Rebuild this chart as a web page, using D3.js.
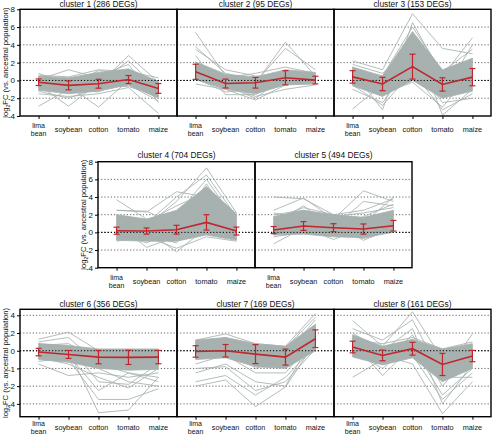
<!DOCTYPE html>
<html><head><meta charset="utf-8">
<script src="https://cdn.jsdelivr.net/npm/d3@7"></script>
<style>body{margin:0;background:#fff}svg{display:block;font-family:"Liberation Sans",Arial,sans-serif}</style>
</head><body><svg id="c" width="492" height="435"></svg>
<script>
const categories = ["lima bean","soybean","cotton","tomato","maize"];
const clusterNames = ["cluster 1 (286 DEGs)","cluster 2 (95 DEGs)","cluster 3 (153 DEGs)","cluster 4 (704 DEGs)","cluster 5 (494 DEGs)","cluster 6 (356 DEGs)","cluster 7 (169 DEGs)","cluster 8 (161 DEGs)"];
const yTicksTop = [8,6,4,2,0,-2,-4];
const yTickLabelsTop = ["8","6","4","2","0","-2","-4"];
const yTicksBottom = [4,2,0,-2,-4,-6];
const yTickLabelsBottom = ["4","2","0","-1","-2","-4"];

// mean log2FC per cluster and its error (SD)
const means = [
  [-0.2,-0.55,-0.37,0.1,-0.9],
  [0.97,-0.35,-0.26,0.3,0.04],
  [0.4,-0.4,1.55,-0.45,0.37],
  [0.19,0.15,0.3,1.13,0.15],
  [0.26,0.72,0.53,0.38,0.75],
  [-0.15,-0.42,-0.72,-0.75,-0.72],
  [-0.08,0.0,-0.38,-0.72,1.36],
  [0.42,-0.53,0.23,-1.55,-0.6]
];
const errors = [
  [0.37,0.5,0.5,0.45,0.55],
  [0.85,0.5,0.6,0.8,0.43],
  [0.7,0.75,1.4,0.75,0.97],
  [0.4,0.35,0.5,0.87,0.45],
  [0.4,0.5,0.45,0.57,0.6],
  [0.42,0.45,0.75,0.8,0.75],
  [0.65,0.7,1.07,0.9,1.0],
  [0.66,0.6,0.72,1.25,0.64]
];
// dense core of gene profiles (low / high edge)
const coreLo = [
  [-1.1,-1.5,-1.2,-0.5,-2.0],
  [0.1,-1.0,-1.5,-0.5,-0.4],
  [-0.6,-1.8,0.0,-2.0,-1.2],
  [-0.9,-1.0,-1.0,-0.3,-0.9],
  [-0.3,-0.2,-0.5,-0.6,0.0],
  [-1.0,-1.3,-2.0,-2.2,-2.1],
  [-1.0,-0.8,-1.8,-2.0,0.0],
  [-0.7,-1.6,-0.8,-3.5,-2.0]
];
const coreHi = [
  [0.5,0.3,0.9,1.3,-0.1],
  [2.1,0.7,0.4,1.2,0.9],
  [1.5,0.5,5.5,1.2,2.5],
  [2.0,1.5,2.5,5.2,2.1],
  [1.8,2.5,2.0,1.7,2.5],
  [0.8,0.6,0.2,0.2,0.2],
  [1.2,1.5,0.8,0.5,3.0],
  [1.8,0.5,1.3,0.2,0.8]
];
// individual gene profiles visible outside the core
const genes1 = [[-2.9,-1.0,-1.3,0.2,-1.0],[0.8,-0.5,1.1,0.8,-0.6],[-0.5,-2.9,-0.3,0.5,-1.5],[0.1,1.2,0.3,0.5,-0.5],[-0.3,-0.6,-3.0,0.0,-1.2],[-0.8,-1.2,-0.5,2.8,-0.2],[0.3,-0.2,0.5,1.8,-2.5],[-1.5,-1.8,-1.5,-0.8,-3.7],[-1.2,-2.0,-0.8,-0.5,-2.3],[0.6,0.4,1.2,1.0,0.3],[-0.6,-0.9,-0.2,2.2,-1.0],[0.2,-0.1,-0.6,-0.7,-1.7]];
const genes2 = [[5.4,0.5,-0.5,0.2,0.2],[3.8,0.8,0.0,0.5,0.0],[3.5,1.2,0.5,0.3,0.6],[2.8,-1.6,-1.6,0.2,-0.3],[-0.4,-1.0,-2.2,-0.5,0.3],[1.0,0.2,-0.3,4.3,0.5],[1.5,-0.2,-0.2,3.6,1.2],[0.5,-0.5,-1.8,-1.0,-0.5],[2.0,0.3,0.8,1.5,0.8],[0.2,-1.3,-1.0,-0.2,-0.2],[1.2,-0.6,-2.0,0.5,0.4]];
const genes3 = [[-3.2,-0.5,1.5,-1.0,0.5],[2.2,1.2,7.5,3.6,3.0],[1.0,-3.3,6.5,0.5,4.8],[0.5,0.2,5.0,-3.9,-1.0],[-1.0,-2.5,2.0,-2.5,-2.0],[1.8,0.8,3.5,-1.5,4.0],[0.0,-1.5,-0.2,-3.0,1.0],[1.2,-0.8,4.5,0.8,2.2],[-0.5,-2.8,1.0,-3.3,-1.5],[0.8,0.5,6.0,1.0,3.5],[0.3,-1.2,3.0,-1.8,-0.5],[1.5,0.0,2.5,0.3,1.5]];
const genes4 = [[3.7,1.5,0.5,2.0,0.5],[2.5,2.4,0.8,1.5,0.3],[2.5,2.3,4.6,4.0,1.5],[1.0,-1.7,-0.5,3.0,0.0],[0.5,0.2,-2.2,0.5,-0.8],[1.5,0.8,3.5,7.3,2.2],[0.8,1.0,4.0,6.5,1.8],[-0.5,-0.5,-1.8,-0.5,-1.0],[1.2,0.5,2.0,6.0,1.2],[0.0,-1.2,0.5,5.5,0.5],[1.8,1.2,3.0,4.5,2.0],[-1.0,-0.3,-1.2,2.5,-0.5]];
const genes5 = [[4.0,3.8,2.0,1.5,2.0],[2.5,3.9,1.5,1.0,4.0],[2.2,1.5,1.5,4.7,3.5],[-1.3,0.5,-0.8,0.5,1.0],[1.0,3.0,0.5,3.5,3.0],[0.5,1.8,1.0,-0.9,0.5],[1.5,2.8,2.0,2.5,3.8],[-0.5,0.0,0.0,-0.7,0.2],[2.0,2.5,1.8,2.2,2.8],[0.8,1.2,0.3,1.8,3.2]];
const genes6 = [[1.3,2.1,0.0,-0.5,-1.0],[-1.5,-2.8,-2.5,-3.0,-2.5],[0.5,0.0,-7.0,-6.7,-3.0],[-0.5,-1.0,-5.5,-5.5,-4.3],[0.8,0.5,-3.5,-3.8,-1.5],[1.0,1.5,-1.5,-2.5,-3.5],[-0.8,-1.5,-3.0,-4.2,-2.0],[0.2,-0.5,-4.5,-2.5,-3.0],[-1.2,-0.8,-2.0,-3.5,-4.0],[0.6,0.8,-1.0,-1.5,-1.0]];
const genes7 = [[-4.0,-3.3,-6.3,-4.1,1.0],[-3.5,-2.8,-5.0,-3.0,0.5],[-2.5,-1.5,-3.5,-4.0,2.0],[1.2,1.9,0.8,0.5,4.2],[0.5,1.5,0.0,-0.5,3.5],[-1.5,-0.5,-2.5,-2.5,1.5],[-2.0,-1.8,-4.5,-3.5,0.2],[0.8,1.0,0.5,0.3,3.8],[-0.5,0.3,-1.2,-1.5,2.5],[0.0,0.8,-2.0,-0.8,1.0]];
const genes8 = [[-3.0,-1.0,-0.5,-2.0,-1.0],[3.4,0.5,4.4,-1.0,0.5],[2.5,1.2,3.5,-3.0,1.9],[1.0,-2.8,0.5,-5.0,-2.0],[0.5,-0.5,-1.5,-7.1,-3.5],[2.0,0.0,2.5,-6.0,-1.5],[1.5,-1.5,1.8,-4.0,0.0],[-0.5,-1.2,-0.5,-5.5,-2.5],[1.2,0.8,1.5,0.2,1.0],[0.0,-2.0,0.8,-3.0,-3.0]];
const genes = [genes1,genes2,genes3,genes4,genes5,genes6,genes7,genes8];

const GREY = "#a7b1af", RED = "#c0262c";
const svg = d3.select("#c");
const rows = [
  {clusters:[0,1,2], left:20, top:9.3, bottom:116, domain:[-4,8], ticks:yTicksTop, labels:yTickLabelsTop, titleY:7.3},
  {clusters:[3,4], left:98, top:161.7, bottom:267.7, domain:[-4,8], ticks:yTicksTop, labels:yTickLabelsTop, titleY:158},
  {clusters:[5,6,7], left:20, top:309.3, bottom:416.7, domain:[-7.45,4.68], ticks:yTicksBottom, labels:yTickLabelsBottom, titleY:306.5}
];
const PW = 157;
rows.forEach((row, ri) => {
  const y = d3.scaleLinear().domain(row.domain).range([row.bottom, row.top]);
  const ya = svg.append("g").attr("transform", `translate(${row.left},0)`)
    .call(d3.axisLeft(y).tickValues(row.ticks).tickSize(3).tickPadding(2).tickFormat((d,i)=>row.labels[i]));
  ya.select(".domain").remove();
  ya.selectAll("text").attr("font-size", 8).attr("fill","#111").attr("font-family","Liberation Sans, Arial");
  ya.selectAll("line").attr("stroke","#000");
  const tx = row.left - 12.5, ty = (row.top + row.bottom)/2;
  const t = svg.append("text").attr("transform", `translate(${tx},${ty}) rotate(-90)`)
    .attr("text-anchor","middle").attr("font-size",7.6).attr("fill","#111");
  t.append("tspan").text("log");
  t.append("tspan").text("2").attr("font-size",5.2).attr("dy",2);
  t.append("tspan").text("FC (vs. ancestral population)").attr("dy",-2);

  row.clusters.forEach((ci, k) => {
    const x0 = row.left + k*PW;
    const x = d3.scalePoint().domain(categories).range([x0, x0+PW]).padding(0.62);
    const g = svg.append("g");
    const clipId = "clip"+ci;
    svg.append("clipPath").attr("id", clipId).append("rect")
      .attr("x", x0).attr("y", row.top).attr("width", PW).attr("height", row.bottom-row.top);
    row.ticks.forEach(v => {
      if (y(v) <= row.top+1 || y(v) >= row.bottom-1) return;
      g.append("line").attr("x1", x0).attr("x2", x0+PW).attr("y1", y(v)).attr("y2", y(v))
        .attr("stroke", v===0 ? "#000" : "#555").attr("stroke-width", v===0?1:0.9)
        .attr("stroke-dasharray","1.2,2");
    });
    const pg = g.append("g").attr("clip-path", `url(#${clipId})`);
    const area = d3.area().x((d,i)=>x(categories[i])).y0((d,i)=>y(coreLo[ci][i])).y1((d,i)=>y(coreHi[ci][i]));
    pg.append("path").datum(categories).attr("d", area).attr("fill", GREY).attr("stroke", GREY).attr("stroke-width",0.8);
    const line = d3.line().x((d,i)=>x(categories[i])).y(d=>y(d));
    pg.selectAll("path.gene").data(genes[ci]).join("path").attr("class","gene")
      .attr("d", line).attr("fill","none").attr("stroke", GREY).attr("stroke-width",0.85);
    g.append("line").attr("x1", x0).attr("x2", x0+PW).attr("y1", y(0)).attr("y2", y(0))
      .attr("stroke","#000").attr("stroke-width",1).attr("stroke-dasharray","1.2,2");
    g.append("path").datum(means[ci]).attr("d", line).attr("fill","none").attr("stroke", RED).attr("stroke-width",1.6);
    categories.forEach((c,i) => {
      const m = means[ci][i], e = errors[ci][i], cx = x(c);
      g.append("line").attr("x1",cx).attr("x2",cx).attr("y1",y(m-e)).attr("y2",y(m+e)).attr("stroke",RED).attr("stroke-width",1.2);
      [m-e, m+e].forEach(v => g.append("line").attr("x1",cx-3).attr("x2",cx+3).attr("y1",y(v)).attr("y2",y(v)).attr("stroke",RED).attr("stroke-width",1.2));
    });
    g.append("rect").attr("x", x0).attr("y", row.top).attr("width", PW).attr("height", row.bottom-row.top)
      .attr("fill","none").attr("stroke","#000").attr("stroke-width",1.4);
    const xa = svg.append("g").attr("transform", `translate(0,${row.bottom})`)
      .call(d3.axisBottom(x).tickSize(3).tickFormat(""));
    xa.select(".domain").remove();
    xa.selectAll("line").attr("stroke","#000");
    const lOff = ri === 2 ? [8.9, 16.8, 13] : [12.2, 20.1, 15.8];
    categories.forEach(c => {
      const parts = c === "lima bean" ? ["lima","bean"] : [c];
      if (parts.length === 2) {
        parts.forEach((p, j) => svg.append("text").attr("x", x(c)).attr("y", row.bottom + lOff[j])
          .attr("text-anchor","middle").attr("font-size",7).attr("fill","#111").text(p));
      } else {
        svg.append("text").attr("x", x(c)).attr("y", row.bottom + lOff[2])
          .attr("text-anchor","middle").attr("font-size",7.3).attr("fill","#111").text(c);
      }
    });
    svg.append("text").attr("x", x0+PW/2).attr("y", row.titleY).attr("text-anchor","middle")
      .attr("font-size",8.4).attr("fill","#111").text(clusterNames[ci]);
  });
});
</script></body></html>
